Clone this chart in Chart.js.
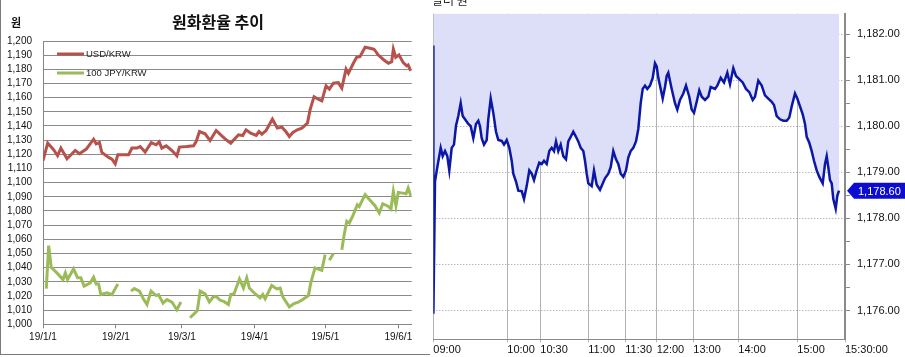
<!DOCTYPE html>
<html><head><meta charset="utf-8">
<script src="https://cdn.jsdelivr.net/npm/chart.js@4.4.0/dist/chart.umd.min.js"></script>
<style>
html,body{margin:0;padding:0;background:#fff;width:905px;height:357px;overflow:hidden;position:relative;font-family:"Noto Sans CJK KR","Liberation Sans",sans-serif;}
#leftBox{position:absolute;left:0;top:-2px;width:430px;height:357px;border-left:1px solid #7a7a7a;border-bottom:1px solid #7a7a7a;box-sizing:border-box;}
#c1{position:absolute;left:0;top:0;}
#c2{position:absolute;left:430px;top:0;}
#title{position:absolute;left:100px;width:236px;top:9px;text-align:center;font-size:16px;font-weight:bold;color:#111;}
#unit{position:absolute;left:11px;top:14px;font-size:11px;font-weight:bold;color:#111;}
#rtop{position:absolute;left:432px;top:-9px;font-size:12px;color:#222;}
</style></head>
<body>
<div id="leftBox"></div>
<canvas id="c1" width="430" height="357"></canvas>
<canvas id="c2" width="475" height="357"></canvas>
<div id="title">원화환율 추이</div>
<div id="unit">원</div>
<div id="rtop">달러 원</div>
<script>
// ---------- left chart data (x = days since 2019-01-01) ----------
const usdDays = [0,2,4.5,6.2,7.6,10.2,13.7,15.5,18.4,21.5,22.6,24,25,27.9,29.3,30.7,31.8,34.2,36.4,37.8,39.9,41.3,43.4,46,48.1,49.4,50.5,52.4,54.8,56.9,58,61.1,64,65.1,66.5,68.9,71,73.6,76,77.4,79.8,83.1,84.9,86.3,88.3,90.6,91.8,93,94.8,97.5,99.6,101.5,103.2,104.7,106.2,108.1,110,112.4,113.5,115.2,117,118.5,120.3,121.7,123.4,125.5,127,128.8,129.8,131.9,133.3,134.7,136.9,139,140.7,142.5,144.9,146.8,148.2,148.9,149.9,151.3,153.1,154.6,155.2,156.3];
const usdKrw = [1115.6,1127.9,1123.2,1119,1124.4,1116.8,1122.7,1120.4,1123.7,1130.7,1127.4,1128.3,1121.3,1117.8,1116.6,1113.3,1119.7,1119.7,1119.7,1124.4,1124.4,1125.5,1121.6,1128.3,1126.7,1128.8,1124.4,1126,1122.7,1119,1125.1,1125.5,1126,1129,1136.1,1134.5,1129.7,1136.8,1133,1130.9,1127.9,1133.8,1133.3,1137.3,1134.9,1133.3,1136.1,1134.2,1136.8,1144.8,1138.5,1139.2,1136.1,1132.6,1135.4,1137.3,1138.5,1142,1151.4,1160.7,1158.9,1157.7,1168.3,1166,1170.2,1170.6,1166.7,1180.1,1177.2,1184.3,1188.5,1188.9,1195.6,1194.9,1194.2,1190.1,1186.6,1184.3,1185.4,1194.2,1188.5,1190.1,1184.7,1182.4,1183.1,1178.9];
const jpyDays = [1.4,2.4,3.5,5.9,8.5,9.5,10.4,13,14.7,16.1,17.5,20.1,21.5,22.6,23.6,24.6,27.2,29.3,30.7,31.8,34,37.4,38.8,41,42.7,44.2,45.9,48.1,49.1,51,52.7,54.8,56.9,58.6,60,62.5,64.2,65.6,66.8,68.9,70.7,72.2,73.6,75.3,77,78.8,79.8,81.2,83.5,85.2,86.6,87.7,90.1,92.3,93.4,94.4,97.2,99.4,100.8,101.9,104.7,106.7,108.5,110.4,112.8,113.8,115.6,117.5,118.5,119.9,120.8,121.7,123.4,125,127,128,129.1,130.2,131.9,133.6,134.4,136.9,139,141.1,142.9,144.4,146.8,147.9,148.9,150,151,152.9,154.3,155.2,156.3];
const jpyKrw = [1025.2,1055.5,1040.2,1036.3,1031.6,1036.3,1031.6,1039.1,1032.8,1032.8,1026.9,1029.3,1033.2,1028.5,1028.5,1021,1022.2,1021,1025.2,1028.5,null,1023.4,1025.2,1023.4,1017.9,1014,1023.4,1020.3,1021,1014.9,1017.4,1015.7,1010.3,1015.7,null,1004.6,1007.4,1009.7,1023.4,1021.5,1015.7,1019,1019.7,1017,1016,1014,1021,1021.6,1032,1025.6,1032.8,1025.6,1021.6,1018.6,1021,1018,1027.4,1025,1025.6,1019.4,1012.3,1014.6,1015.6,1017.5,1020.3,1029.2,1039.8,1038.6,1038.1,1049.2,null,1045.2,1049.9,null,1052.7,1063.3,1072.7,1071.5,1077.4,1084.4,1083.2,1091.5,1087.5,1083.7,1078.6,1085.1,1083.2,1081.4,1093.8,1083.7,1093.1,1092.6,1092.1,1096.2,1090.7];
const monthTickDays = [0,31,59,90,120,151];
const monthTickLabels = ['19/1/1','19/2/1','19/3/1','19/4/1','19/5/1','19/6/1'];
const seriesNames = ['USD/KRW','100 JPY/KRW'];

// ---------- right chart data (x = tick sequence position in session) ----------
const intraday = [[0,1181.75],[0.1,1175.93],[1.7,1178.8],[4,1179.11],[7.4,1179.53],[9.4,1179.35],[11.7,1179.46],[14,1179.35],[16,1179.04],[18.4,1179.53],[20.7,1179.6],[22.7,1180.01],[25,1180.22],[27.4,1180.5],[29.4,1180.22],[31.7,1180.15],[35,1180.05],[37.4,1180.0],[40,1179.74],[42.7,1180.05],[45,1180.12],[46.7,1180.0],[48.4,1179.74],[50.7,1179.6],[53.4,1179.7],[55,1180.15],[57.4,1180.6],[60,1180.29],[62.7,1179.88],[65,1179.7],[68.4,1179.68],[70.7,1179.6],[73.4,1179.7],[76,1179.53],[78.4,1179.25],[80,1178.97],[82.7,1178.8],[85,1178.6],[88.4,1178.59],[90.7,1178.42],[93.4,1178.7],[96,1179.04],[98.4,1178.97],[100.7,1178.83],[103.4,1179.04],[106,1179.21],[108.4,1179.18],[110.7,1179.25],[113.4,1179.18],[116,1179.46],[118.4,1179.53],[120.7,1179.46],[122.7,1179.67],[125,1179.46],[127.4,1179.6],[130,1179.35],[132.7,1179.28],[135,1179.67],[137.4,1179.77],[140,1179.88],[142.7,1179.77],[145,1179.67],[147.4,1179.53],[150,1179.46],[151.7,1179.25],[153.4,1178.97],[155,1178.76],[158.4,1178.7],[160.7,1179.04],[163.4,1178.73],[166.7,1178.62],[171.7,1178.87],[175,1178.97],[177.4,1179.11],[180,1179.46],[182.7,1179.28],[185,1179.18],[187.4,1178.97],[190,1178.9],[192.7,1179.04],[195,1179.32],[197.4,1179.46],[200,1179.53],[202.7,1179.67],[205,1179.94],[207.4,1180.5],[209.4,1180.81],[211.7,1180.88],[214,1180.81],[216.7,1180.88],[219.4,1181.05],[221.7,1181.37],[223.4,1181.3],[225,1181.05],[227.4,1180.81],[229.4,1180.6],[231.7,1180.85],[233.4,1181.09],[235,1181.16],[238.4,1180.81],[241.7,1180.5],[244,1180.36],[246.7,1180.57],[250,1180.71],[252.7,1180.88],[256,1180.64],[258.4,1180.36],[260.7,1180.29],[263.4,1180.53],[266,1180.78],[268.4,1180.64],[271.7,1180.57],[275,1180.64],[277.4,1180.85],[281.7,1180.81],[284,1180.88],[287.4,1181.05],[290.7,1180.95],[294,1181.16],[296.7,1180.91],[300,1181.26],[302.7,1181.09],[306,1181.02],[309.4,1180.95],[312.7,1180.81],[316,1180.74],[319.4,1180.57],[321.7,1180.64],[325,1180.99],[328.4,1180.88],[331.7,1180.67],[335,1180.6],[338.4,1180.53],[340.7,1180.46],[343.4,1180.22],[346.7,1180.15],[350,1180.12],[353.4,1180.12],[356,1180.19],[358.4,1180.43],[361.7,1180.71],[364,1180.6],[366.7,1180.43],[369.4,1180.26],[371.7,1180.05],[373.4,1179.77],[376,1179.64],[378.4,1179.46],[380.7,1179.25],[383.4,1179.04],[386,1178.9],[389.4,1178.76],[391.7,1179.18],[393.4,1179.35],[395,1179.11],[396.7,1178.83],[398.4,1178.76],[400,1178.42],[402.4,1178.21],[404,1178.49],[405.7,1178.6]];
const sessionTickPos = [0,74,107,155,192,223.4,260,305,364,411.7];
const sessionTickLabels = ['09:00','10:00','10:30','11:00','11:30','12:00','13:00','14:00','15:00','15:30:00'];
const priceTicks = [1176,1176.5,1177,1177.5,1178,1178.5,1179,1179.5,1180,1180.5,1181,1181.5,1182];

// ---------- left chart ----------
const legendPlugin = {
  id: 'inLegend',
  afterDraw(chart) {
    const {ctx, chartArea} = chart;
    chart.data.datasets.forEach((ds, i) => {
      const y = chartArea.top + 13 + i * 19;
      ctx.save();
      ctx.strokeStyle = ds.borderColor;
      ctx.lineWidth = 3;
      ctx.beginPath();
      ctx.moveTo(chartArea.left + 14, y);
      ctx.lineTo(chartArea.left + 41, y);
      ctx.stroke();
      ctx.fillStyle = '#222';
      ctx.font = '9.5px "Liberation Sans", sans-serif';
      ctx.textBaseline = 'middle';
      ctx.fillText(ds.label, chartArea.left + 43, y);
      ctx.restore();
    });
  }
};

new Chart(document.getElementById('c1'), {
  type: 'line',
  data: {
    datasets: [
      { label: seriesNames[0], data: usdDays.map((d, i) => ({x: d, y: usdKrw[i]})),
        borderColor: '#b7514c', borderWidth: 3, pointRadius: 0, tension: 0, spanGaps: true },
      { label: seriesNames[1], data: jpyDays.map((d, i) => ({x: d, y: jpyKrw[i]})),
        borderColor: '#9bbb59', borderWidth: 3, pointRadius: 0, tension: 0, spanGaps: false }
    ]
  },
  options: {
    responsive: false, animation: false,
    layout: { autoPadding: false, padding: { left: 7, top: 41, right: 18.3, bottom: 0 } },
    plugins: { legend: { display: false }, tooltip: { enabled: false } },
    scales: {
      x: {
        type: 'linear', min: 0, max: 156.7,
        afterBuildTicks: s => { s.ticks = monthTickDays.map(v => ({ value: v })); },
        afterFit: s => { s.height = 32.7; },
        ticks: { autoSkip: false, maxRotation: 0, padding: 3, color: '#111',
          font: { family: '"Liberation Sans", sans-serif', size: 10 },
          callback: v => monthTickLabels[monthTickDays.indexOf(v)] },
        grid: { drawOnChartArea: false, drawTicks: true, tickLength: 4, color: '#868686' },
        border: { color: '#868686' }
      },
      y: {
        min: 1000, max: 1200,
        afterFit: s => { s.width = 36; },
        ticks: { stepSize: 10, autoSkip: false, padding: 11, color: '#111',
          font: { family: '"Liberation Sans", sans-serif', size: 10 },
          callback: v => v.toLocaleString('en-US') },
        grid: { color: '#8a8a8a', drawTicks: false },
        border: { color: '#868686' }
      }
    }
  },
  plugins: [legendPlugin]
});

// ---------- right chart ----------
const fmtPrice = v => v.toLocaleString('en-US', { minimumFractionDigits: 2, maximumFractionDigits: 2 });
const rightFont = '"Liberation Sans", sans-serif';
const lastPrice = intraday[intraday.length - 1][1];

const priceTagPlugin = {
  id: 'priceTag',
  afterDraw(chart) {
    const {ctx, chartArea, scales} = chart;
    const y = scales.y.getPixelForValue(lastPrice);
    const x0 = chartArea.right + 2;
    ctx.save();
    ctx.fillStyle = '#0d0dd2';
    ctx.beginPath();
    ctx.moveTo(x0, y);
    ctx.lineTo(x0 + 7, y - 8);
    ctx.lineTo(chart.width, y - 8);
    ctx.lineTo(chart.width, y + 8);
    ctx.lineTo(x0 + 7, y + 8);
    ctx.closePath();
    ctx.fill();
    ctx.fillStyle = '#fff';
    ctx.font = '11px ' + rightFont;
    ctx.textBaseline = 'middle';
    ctx.fillText(fmtPrice(lastPrice), x0 + 11, y + 1);
    ctx.restore();
  }
};

new Chart(document.getElementById('c2'), {
  type: 'line',
  data: {
    datasets: [{
      data: intraday.map(p => ({ x: p[0], y: p[1] })),
      borderColor: '#0b17a6', borderWidth: 2.5, pointRadius: 0, tension: 0,
      fill: 'end', backgroundColor: 'rgb(221,222,248)'
    }]
  },
  options: {
    responsive: false, animation: false,
    layout: { autoPadding: false, padding: { left: 3.3, top: 0, right: 0, bottom: 0 } },
    plugins: { legend: { display: false }, tooltip: { enabled: false } },
    scales: {
      x: {
        type: 'linear', min: 0, max: 411.7, z: 1,
        afterBuildTicks: s => { s.ticks = sessionTickPos.map(v => ({ value: v })); },
        afterFit: s => { s.height = 17.7; },
        ticks: { autoSkip: false, maxRotation: 0, align: 'start', padding: 1, color: '#111',
          font: { family: rightFont, size: 11 },
          callback: v => sessionTickLabels[sessionTickPos.indexOf(v)] },
        grid: { color: '#b2b2b8', tickLength: 3 },
        border: { color: '#8a8a8a' }
      },
      y: {
        position: 'right', min: 1175.375, max: 1182.444, z: 1,
        afterBuildTicks: s => { s.ticks = priceTicks.map(v => ({ value: v })); },
        afterFit: s => { s.width = 60; },
        ticks: { autoSkip: false, padding: 7, color: '#111',
          font: { family: rightFont, size: 11 },
          callback: v => Number.isInteger(v) ? fmtPrice(v) : '' },
        grid: { color: c => (c.tick && Number.isInteger(c.tick.value)) ? '#9a9aa0' : 'rgba(0,0,0,0)',
          tickColor: '#8a8a8a', tickLength: 5 },
        border: { color: '#8a8a8a', width: 2, dash: [1, 2] }
      }
    }
  },
  plugins: [priceTagPlugin]
});
</script>
</body></html>
